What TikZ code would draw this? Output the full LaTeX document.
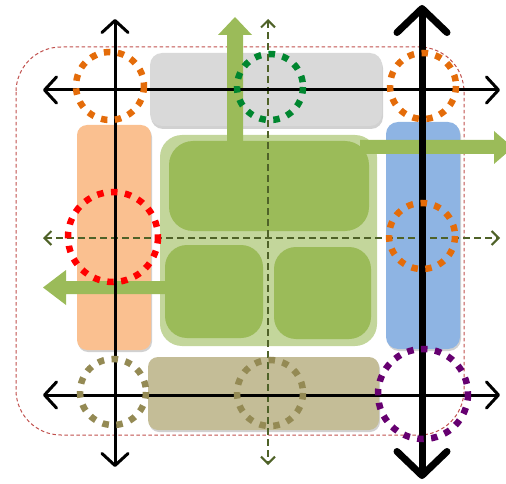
\documentclass[tikz,border=0pt]{standalone}
\usetikzlibrary{arrows.meta}
\definecolor{grayfill}{HTML}{D9D9D9}
\definecolor{peach}{HTML}{FAC090}
\definecolor{bluefill}{HTML}{8EB4E3}
\definecolor{khakifill}{HTML}{C4BD97}
\definecolor{lightgreen}{HTML}{C3D69B}
\definecolor{midgreen}{HTML}{9BBB59}
\definecolor{olive}{HTML}{4F6228}
\definecolor{circorange}{HTML}{E46C0A}
\definecolor{circgreen}{HTML}{00862F}
\definecolor{circred}{HTML}{FF0000}
\definecolor{circkhaki}{HTML}{948A54}
\definecolor{circpurple}{HTML}{660070}
\definecolor{outerred}{HTML}{C0504D}
\tikzset{
  panel/.style={fill=#1},
  shadowbox/.style={fill=black,opacity=0.18},
  thinaxis/.style={line width=3pt,line cap=round,
    arrows={Straight Barb[length=12pt,width=26pt,line width=3pt,round]-Straight Barb[length=12pt,width=26pt,line width=3pt,round]}},
  thickaxis/.style={line width=7pt,
    arrows={Straight Barb[length=24pt,width=50pt,line width=7pt,round]-Straight Barb[length=24pt,width=50pt,line width=7pt,round]}},
  guide/.style={olive,line width=2.5pt,dash pattern=on 7pt off 4pt,
    arrows={Straight Barb[length=7pt,width=14pt,line width=2pt]-Straight Barb[length=7pt,width=14pt,line width=2pt]}},
  ring/.style={draw=#1,line width=6.5pt,dash pattern=on 6.5pt off 7.5pt},
  greenarrow/.style={fill=midgreen},
}
\begin{document}
\begin{tikzpicture}[x=1pt,y=-1pt]
\useasboundingbox (0,0) rectangle (506,484);
\begin{scope}
\clip (0,0) rectangle (506,484);
% outer dashed frame
\draw[outerred,line width=1pt,dash pattern=on 3.5pt off 2.5pt,rounded corners=45pt] (16,47) rectangle (464,435);
% side panels with shadows
\fill[shadowbox,rounded corners=12pt] (151,56) rectangle (383,129);
\fill[panel=grayfill,rounded corners=12pt] (150,53) rectangle (382,126);
\fill[shadowbox,rounded corners=10pt] (78,127) rectangle (152,352);
\fill[panel=peach,rounded corners=10pt] (77,125) rectangle (151,350);
\fill[shadowbox,rounded corners=12pt] (387,124) rectangle (461,351);
\fill[panel=bluefill,rounded corners=12pt] (386,122) rectangle (460,349);
\fill[shadowbox,rounded corners=10pt] (149,359) rectangle (380,432);
\fill[panel=khakifill,rounded corners=10pt] (148,357) rectangle (379,430);
% central green block
\fill[panel=lightgreen,rounded corners=22pt] (160,135) rectangle (377,346);
\fill[panel=midgreen,rounded corners=24pt] (169,141) rectangle (369,231);
\fill[panel=midgreen,rounded corners=22pt] (165,245) rectangle (263,338);
\fill[panel=midgreen,rounded corners=22pt] (274,247) rectangle (371,339);
% green arrows
\fill[greenarrow] (227,145) -- (227,35) -- (218,35) -- (235,17) -- (252,35) -- (243,35) -- (243,145) -- cycle;
\fill[greenarrow] (360,140) -- (494,140) -- (494,131) -- (513,147.5) -- (494,164) -- (494,154) -- (360,154) -- cycle;
\fill[greenarrow] (170,281) -- (66,281) -- (66,270) -- (43,287.5) -- (66,305) -- (66,294) -- (170,294) -- cycle;
% dashed guide lines
\coordinate (gt) at (268,19);
\coordinate (gb) at (268,465);
\coordinate (gl) at (43,238);
\coordinate (gr) at (500,238);
\draw[guide] (gt) -- (gb);
\draw[guide] (gl) -- (gr);
% black axes
\coordinate (at1) at (115,19);
\coordinate (ab1) at (115,467);
\coordinate (at2) at (422,5);
\coordinate (ab2) at (422,479);
\coordinate (hl1) at (43,90);
\coordinate (hr1) at (500,90);
\coordinate (hl2) at (43,395);
\coordinate (hr2) at (500,395);
\draw[thinaxis] (hl1) -- (hr1);
\draw[thinaxis] (hl2) -- (hr2);
\draw[thinaxis] (at1) -- (ab1);
\draw[thickaxis] (at2) -- (ab2);
% dotted rings
\draw[ring=circorange] (110,86) circle[radius=34];
\draw[ring=circgreen] (270,87) circle[radius=33];
\draw[ring=circorange] (423,86) circle[radius=33];
\draw[ring=circred] (113,237) circle[radius=45];
\draw[ring=circorange] (422,236) circle[radius=33];
\draw[ring=circkhaki] (113,392) circle[radius=33];
\draw[ring=circkhaki] (270,393) circle[radius=33];
\draw[ring=circpurple] (423,394) circle[radius=45];
\end{scope}
\end{tikzpicture}
\end{document}
